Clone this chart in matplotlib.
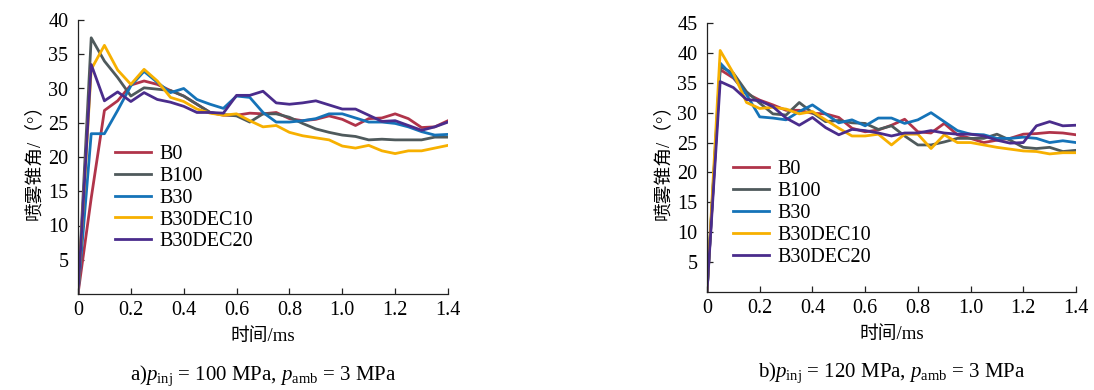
import numpy as np
import matplotlib
matplotlib.use("Agg")
import matplotlib.pyplot as plt

plt.rcParams['font.family'] = ['Liberation Serif', 'Noto Sans CJK SC']
plt.rcParams['mathtext.fontset'] = 'custom'
plt.rcParams['mathtext.rm'] = 'Liberation Serif'
plt.rcParams['mathtext.it'] = 'Liberation Serif:italic'

t = np.round(np.arange(0, 1.4001, 0.05), 2)
fuels = ['B0', 'B100', 'B30', 'B30DEC10', 'B30DEC20']
colors = ['#b0344a', '#4f5a5c', '#1573b8', '#f7b000', '#4a2c8c']

# spray cone angle, p_inj = 100 MPa
a_b0 = [0, 14.0, 26.8, 28.2, 30.5, 31.1, 30.6, 29.7, 28.9, 27.7, 26.5, 26.1, 26.1, 26.4, 26.3,
        26.5, 25.6, 25.3, 25.5, 26.0, 25.5, 24.6, 25.6, 25.7, 26.3, 25.6, 24.3, 24.4, 25.3]
a_b100 = [0, 37.4, 34.0, 31.6, 28.9, 30.1, 29.9, 29.7, 28.9, 27.7, 26.5, 26.2, 26.0, 25.1, 26.3,
          26.3, 25.8, 24.9, 24.1, 23.6, 23.2, 23.0, 22.5, 22.6, 22.5, 22.5, 22.5, 22.9, 22.9]
a_b30 = [0, 23.4, 23.4, 26.8, 30.4, 32.5, 30.9, 29.4, 30.0, 28.4, 27.7, 27.1, 28.9, 28.7, 26.5,
         25.1, 25.1, 25.3, 25.6, 26.3, 26.3, 25.7, 25.1, 25.1, 24.9, 24.4, 23.7, 23.2, 23.3]
a_dec10 = [0, 32.8, 36.3, 32.7, 30.6, 32.8, 31.1, 28.7, 28.1, 27.0, 26.4, 26.1, 26.3, 25.3, 24.4,
           24.6, 23.6, 23.1, 22.8, 22.5, 21.6, 21.3, 21.7, 20.9, 20.5, 20.9, 20.9, 21.3, 21.7]
a_dec20 = [0, 33.5, 28.2, 29.5, 28.1, 29.4, 28.4, 28.0, 27.4, 26.5, 26.5, 26.4, 29.0, 29.0, 29.6,
           27.9, 27.7, 27.9, 28.2, 27.6, 27.0, 27.0, 26.1, 25.2, 25.3, 24.6, 23.9, 24.4, 25.1]

# spray cone angle, p_inj = 120 MPa
b_b0 = [0, 37.2, 35.8, 33.2, 32.1, 31.3, 30.4, 30.4, 29.9, 29.8, 29.2, 27.4, 26.8, 27.1, 27.9,
        28.9, 26.8, 26.6, 28.2, 26.3, 25.7, 25.0, 25.4, 25.7, 26.4, 26.5, 26.7, 26.6, 26.3]
b_b100 = [0, 37.7, 36.6, 33.5, 31.6, 29.8, 29.6, 31.7, 30.0, 28.5, 28.7, 28.3, 28.2, 27.2, 27.8,
          26.1, 24.6, 24.6, 25.1, 25.7, 25.7, 25.7, 26.4, 25.4, 24.2, 24.0, 24.2, 23.5, 23.7]
b_b30 = [0, 38.3, 36.0, 33.0, 29.3, 29.1, 28.8, 30.2, 31.3, 29.8, 28.3, 28.8, 27.8, 29.1, 29.1,
         28.2, 28.8, 30.0, 28.5, 27.0, 26.4, 26.3, 25.7, 25.7, 25.9, 25.7, 25.0, 25.3, 25.0]
b_dec10 = [0, 40.4, 36.6, 31.7, 30.7, 30.9, 30.6, 29.8, 30.2, 28.8, 27.4, 26.1, 26.1, 26.4, 24.6,
           26.4, 26.4, 24.0, 26.3, 25.0, 25.0, 24.6, 24.2, 23.9, 23.6, 23.5, 23.1, 23.3, 23.3]
b_dec20 = [0, 35.2, 34.2, 32.2, 32.0, 31.0, 29.1, 27.9, 29.2, 27.5, 26.3, 27.2, 27.0, 26.6, 26.1,
           26.6, 26.6, 27.0, 26.6, 26.4, 26.4, 26.1, 25.4, 24.9, 25.0, 27.8, 28.5, 27.8, 27.9]

panel_a = [a_b0, a_b100, a_b30, a_dec10, a_dec20]
panel_b = [b_b0, b_b100, b_b30, b_dec10, b_dec20]

fig = plt.figure(figsize=(10.94, 3.9), dpi=100)
ax1 = fig.add_axes([78 / 1094, 96 / 390, 370 / 1094, 274 / 390])
ax2 = fig.add_axes([707 / 1094, 98 / 390, 369 / 1094, 269 / 390])


def draw(ax, series, ymax, leg_xy, caption):
    for name, col, y in zip(fuels, colors, series):
        ax.plot(t, y, color=col, lw=2.0, label=name)
    ax.set_xlim(0, 1.4)
    ax.set_ylim(0, ymax)
    ax.set_xticks(np.arange(0, 1.41, 0.2))
    ax.set_xticklabels(['0', '0.2', '0.4', '0.6', '0.8', '1.0', '1.2', '1.4'])
    yt = np.arange(5, ymax + 1, 5)
    ax.set_yticks(yt)
    ax.set_yticklabels([str(v) for v in yt])
    for s in ['top', 'right']:
        ax.spines[s].set_visible(False)
    for s in ['left', 'bottom']:
        ax.spines[s].set_linewidth(0.9)
        ax.spines[s].set_color('#222222')
    ax.tick_params(direction='in', length=4, width=0.9, labelsize=14.5, color='#222222')
    ax.tick_params(axis='y', pad=7)
    ax.tick_params(axis='x', pad=5)
    ax.set_ylabel('喷雾锥角/（°）', fontsize=13.5, labelpad=4)
    ax.set_xlabel('时间/ms', fontsize=13.5, labelpad=6)
    ax.legend(loc='upper left', bbox_to_anchor=leg_xy, frameon=False, fontsize=14.5,
              handlelength=1.8, handletextpad=0.4, labelspacing=0.14,
              borderpad=0, borderaxespad=0)
    ax.text(0.5, -0.3, caption, transform=ax.transAxes, ha='center', va='center', fontsize=15)


draw(ax1, panel_a, 40, (0.1, 0.545),
     r'a)$\mathit{p}_{\mathrm{inj}}$ = 100 MPa, $\mathit{p}_{\mathrm{amb}}$ = 3 MPa')
draw(ax2, panel_b, 45, (0.07, 0.49),
     r'b)$\mathit{p}_{\mathrm{inj}}$ = 120 MPa, $\mathit{p}_{\mathrm{amb}}$ = 3 MPa')

fig.savefig('out.png', dpi=100)
